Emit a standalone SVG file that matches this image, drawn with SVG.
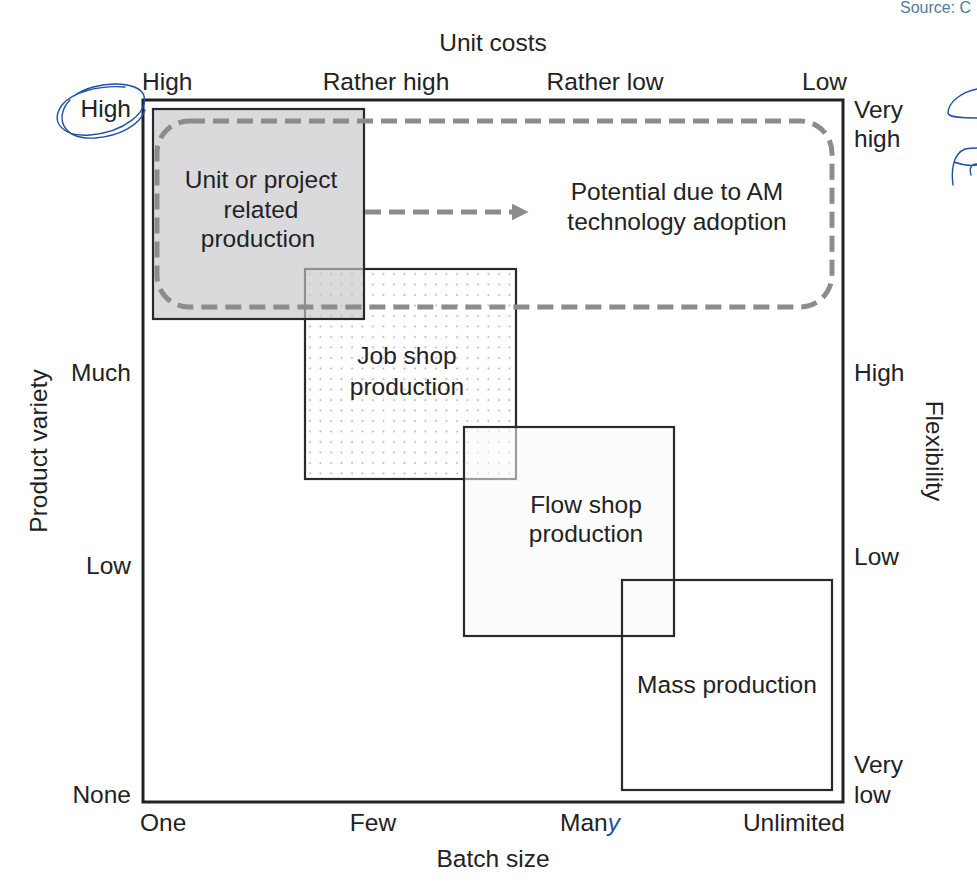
<svg xmlns="http://www.w3.org/2000/svg" width="977" height="883" viewBox="0 0 977 883">
<style>
text{font-family:"Liberation Sans",Arial,sans-serif;font-size:24.5px;fill:#222}
.mid{text-anchor:middle}
.end{text-anchor:end}
.box{stroke:#2a2a2a;stroke-width:2.2}
.dash{fill:none;stroke:#8c8c8e;stroke-width:5;stroke-dasharray:16 8}
.ink{fill:none;stroke:#1f4fa8;stroke-width:1.4;stroke-linecap:round}
</style>
<defs>
<pattern id="dots" width="10.5" height="10.5" patternUnits="userSpaceOnUse" x="305" y="269">
<rect width="10.5" height="10.5" fill="#fff"/>
<circle cx="5" cy="5" r="0.9" fill="#aaa"/>
</pattern>
<marker id="ah" viewBox="0 0 10 10" refX="2" refY="5" markerWidth="3.4" markerHeight="3.4" orient="auto" markerUnits="strokeWidth">
<path d="M0,0L10,5L0,10z" fill="#8c8c8e"/>
</marker>
</defs>
<rect width="977" height="883" fill="#fff"/>

<text x="900" y="13" style="font-size:16px;fill:#4d7d9c">Source: C</text>

<g id="frame">
<rect x="143" y="100" width="700" height="702" fill="none" stroke="#222" stroke-width="3"/>
</g>

<g id="axis-labels">
<text x="493" y="51" class="mid">Unit costs</text>
<text x="142" y="90">High</text>
<text x="386" y="90" class="mid">Rather high</text>
<text x="605" y="90" class="mid">Rather low</text>
<text x="847" y="90" class="end">Low</text>
<text x="131" y="117" class="end">High</text>
<text x="131" y="381" class="end">Much</text>
<text x="131" y="574" class="end">Low</text>
<text x="131" y="803" class="end">None</text>
<text x="854" y="118">Very</text>
<text x="854" y="147">high</text>
<text x="854" y="381">High</text>
<text x="854" y="565">Low</text>
<text x="854" y="773">Very</text>
<text x="854" y="803">low</text>
<text x="140" y="831">One</text>
<text x="373" y="831" class="mid">Few</text>
<text x="560" y="831">Man<tspan style="fill:#1f4fa8;font-style:italic">y</tspan></text>
<text x="845" y="831" class="end">Unlimited</text>
<text x="493" y="867" class="mid">Batch size</text>
<text transform="translate(47,451) rotate(-90)" class="mid">Product variety</text>
<text transform="translate(926,451) rotate(90)" class="mid">Flexibility</text>
</g>

<g id="job-shop">
<rect x="305" y="269" width="211" height="210" fill="url(#dots)" class="box"/>
<text x="407" y="364" class="mid">Job shop</text>
<text x="407" y="395" class="mid">production</text>
</g>

<g id="unit-production">
<rect x="153" y="109" width="211" height="210" fill="#c6c6cb" fill-opacity="0.65" class="box"/>
<text x="261" y="188" class="mid">Unit or project</text>
<text x="261" y="218" class="mid">related</text>
<text x="258" y="247" class="mid">production</text>
</g>

<g id="flow-shop">
<rect x="464" y="427" width="210" height="209" fill="#fafafa" fill-opacity="0.55" class="box"/>
<text x="586" y="513" class="mid">Flow shop</text>
<text x="586" y="542" class="mid">production</text>
</g>

<g id="mass-production">
<rect x="622" y="580" width="210" height="210" fill="none" class="box"/>
<text x="727" y="693" class="mid">Mass production</text>
</g>

<g id="am-potential">
<rect x="157" y="121" width="675" height="186" rx="32" ry="32" class="dash"/>
<text x="677" y="200" class="mid">Potential due to AM</text>
<text x="677" y="230" class="mid">technology adoption</text>
</g>

<g id="connectors">
<line x1="365" y1="212" x2="515" y2="212" class="dash" marker-end="url(#ah)"/>
</g>

<g id="annotations">
<path class="ink" d="M74,96 C95,80 140,80 144,96 C148,112 125,132 90,135 C62,137 50,122 62,105 C72,92 100,85 125,87"/>
<path class="ink" d="M70,100 C55,115 60,140 95,138 C120,136 140,125 145,110"/>
<path class="ink" d="M977,89 C962,92 948,102 948,113 C949,118 965,118 977,118"/>
<path class="ink" d="M953,185 C951,170 953,154 965,149 C970,148 977,148 977,148 M954,162 C962,165 970,166 977,165 M971,175 C969,168 971,164 977,164"/>
</g>
</svg>
